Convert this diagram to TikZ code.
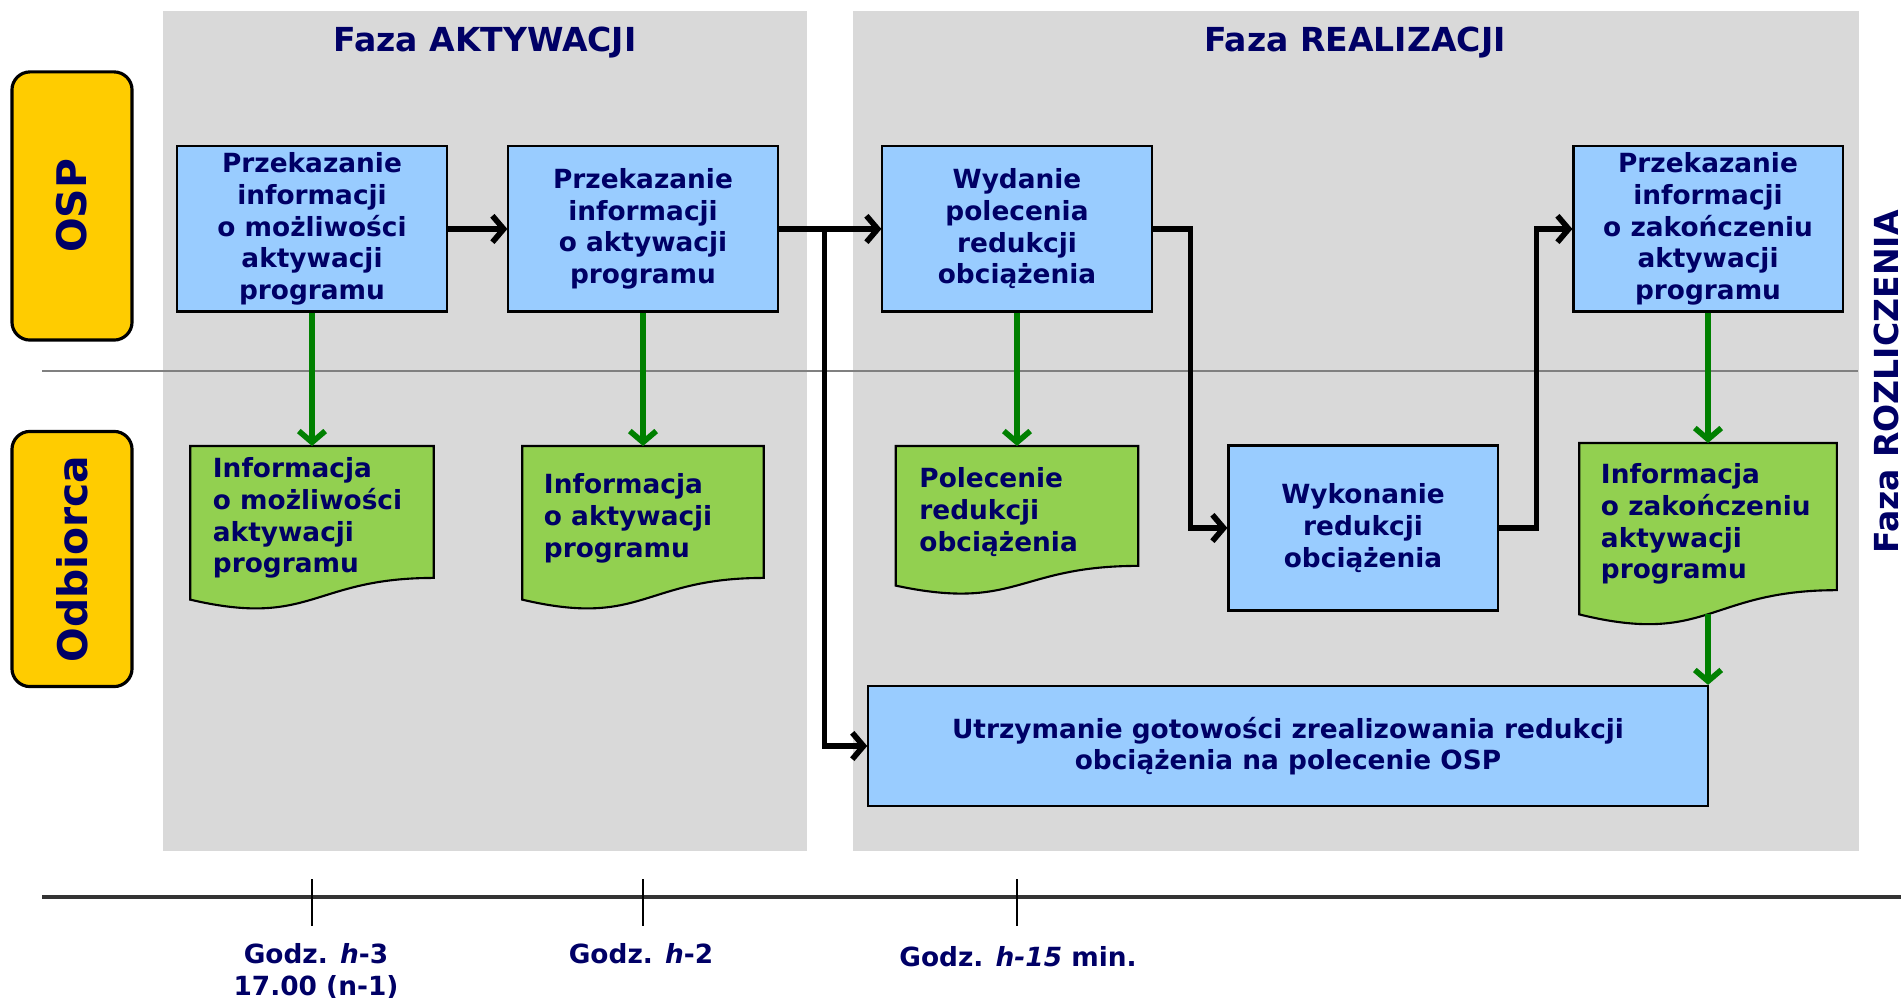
\documentclass[tikz,border=0pt]{standalone}
\usepackage{fontspec}
\setmainfont{DejaVu Sans}
\usepackage[HTML]{xcolor}
\usetikzlibrary{positioning, arrows, arrows.meta}
\usetikzlibrary{calc}

\definecolor{panelgray}{HTML}{D9D9D9}
\definecolor{stepblue}{HTML}{99CCFF}
\definecolor{docgreen}{HTML}{92D050}
\definecolor{lanegold}{HTML}{FFCC00}
\definecolor{navytext}{HTML}{000066}
\definecolor{infogreen}{HTML}{008000}

\begin{document}
\begin{tikzpicture}[x=0.01cm, y=-0.01cm,
  txt/.style={text=navytext, font=\fontsize{7.5pt}{9pt}\selectfont\bfseries},
  stepbox/.style={txt, draw=black, line width=0.6pt, fill=stepblue, align=center, inner sep=0.5pt, minimum width=2.69cm, minimum height=1.65cm},
  docbox/.style={draw=none, inner sep=0pt, anchor=north},
  doctext/.style={txt, align=left, anchor=north west, inner sep=0pt},
  lane/.style={draw=black, line width=0.9pt, fill=lanegold, rounded corners=0.18cm, text=navytext, font=\fontsize{11.6pt}{14pt}\selectfont\bfseries, rotate=90, minimum height=1.2cm},
  phase/.style={text=navytext, font=\fontsize{9.4pt}{11pt}\selectfont\bfseries, inner sep=0pt, anchor=base},
  flow/.style={line width=1.6pt, -{Straight Barb[length=3.2pt,width=7.5pt]}},
  info/.style={flow, line width=1.6pt, infogreen}]
\useasboundingbox (0,0) rectangle (1901,998);

% Phase panels
\fill[panelgray] (163,11) rectangle (807,851);
\fill[panelgray] (853,11) rectangle (1859,851);
\node[phase] (phaseA) at (485,52) {Faza AKTYWACJI};
\node[phase] (phaseR) at (1355,52) {Faza REALIZACJI};
\node[phase, rotate=90] (phaseS) at (1898,382) {Faza ROZLICZENIA};

% Lanes
\draw[black!50, line width=0.6pt] (42,371) -- (1858,371);
\node[lane, minimum width=2.68cm] (osp) at (72,206) {OSP};
\node[lane, minimum width=2.55cm] (odb) at (72,559) {Odbiorca};

% OSP steps
\node[stepbox] (b1) at (312,229) {Przekazanie\\informacji\\o możliwości\\aktywacji\\programu};
\node[stepbox] (b2) at (643,229) {Przekazanie\\informacji\\o aktywacji\\programu};
\node[stepbox] (b3) at (1017,229) {Wydanie\\polecenia\\redukcji\\obciążenia};
\node[stepbox] (b4) at (1708,229) {Przekazanie\\informacji\\o zakończeniu\\aktywacji\\programu};

% Odbiorca steps
\node[stepbox] (b5) at (1363,528) {Wykonanie\\redukcji\\obciążenia};
\node[stepbox, minimum width=8.39cm, minimum height=1.2cm] (b6) at (1288,746) {Utrzymanie gotowości zrealizowania redukcji\\obciążenia na polecenie OSP};

% Documents
\node[docbox, minimum width=2.42cm, minimum height=1.63cm] (d1) at (312,446) {};
\node[docbox, minimum width=2.40cm, minimum height=1.63cm] (d2) at (643,446) {};
\node[docbox, minimum width=2.41cm, minimum height=1.48cm] (d3) at (1017,446) {};
\node[docbox, minimum width=2.56cm, minimum height=1.82cm] (d4) at (1708,443) {};
\foreach \d in {d1,d2,d3,d4}
  \fill[docgreen, draw=black, line width=0.6pt] (\d.north west) -- (\d.north east)
    -- ($(\d.north east)!0.802!(\d.south east)$)
    .. controls ($(\d.north)!0.802!(\d.south)$) and ($(\d.north)!1.1075!(\d.south)$) .. coordinate[pos=0.5] (\d-wave)
    ($(\d.north west)!0.934!(\d.south west)$) -- cycle;
\node[doctext] (d1t) at ($(d1.north west)+(22,11)$) {Informacja\\o możliwości\\aktywacji\\programu};
\node[doctext] (d2t) at ($(d2.north west)+(21,27)$) {Informacja\\o aktywacji\\programu};
\node[doctext] (d3t) at ($(d3.north west)+(23,21)$) {Polecenie\\redukcji\\obciążenia};
\node[doctext] (d4t) at ($(d4.north west)+(21,20)$) {Informacja\\o zakończeniu\\aktywacji\\programu};

% Flow
\draw[flow] (b1) -- (b2);
\draw[flow] (b2) -- (b3);
\coordinate (split) at ($(b2.east)+(46,0)$);
\draw[flow] (split) |- (b6);
\draw[flow] (b3.east) -- ++(38,0) |- (b5);
\draw[flow] (b5.east) -- ++(38,0) |- (b4);

% Information
\draw[info] (b1) -- (d1);
\draw[info] (b2) -- (d2);
\draw[info] (b3) -- (d3);
\draw[info] (b4) -- (d4);
\draw[info] (d4-wave) -- (d4-wave |- b6.north);

% Time axis
\coordinate (axisL) at (42,897);
\coordinate (axisR) at (1901,897);
\draw[black!80, line width=1pt] (axisL) -- (axisR);
\foreach \t/\x in {h3/312, h2/643, h15/1017}
  \draw[line width=0.5pt] (\x,879) -- (\x,926) coordinate (\t);
\node[txt, align=center, anchor=north, inner sep=0pt] (lh3) at (316,943) {Godz. \textit{h}-3\\17.00 (n-1)};
\node[txt, anchor=north, inner sep=0pt] (lh2) at (641,943) {Godz. \textit{h}-2};
\node[txt, anchor=north, inner sep=0pt] (lh15) at (1018,946) {Godz. \textit{h-15} min.};
\end{tikzpicture}
\end{document}
